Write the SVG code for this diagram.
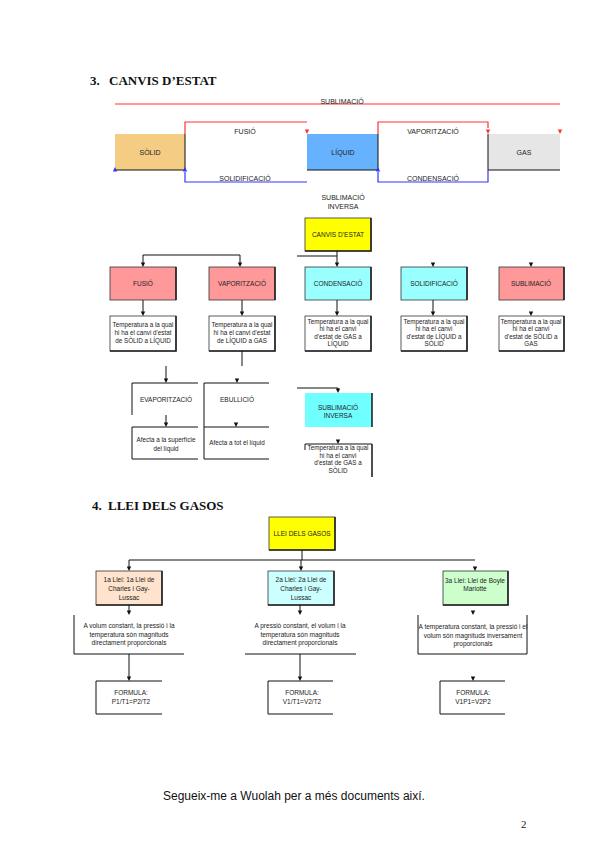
<svg xmlns="http://www.w3.org/2000/svg" xmlns:xlink="http://www.w3.org/1999/xlink" width="600" height="848" viewBox="0 0 600 848">
<defs>
<style>
.t{font-family:"Liberation Sans",Arial,sans-serif;font-size:7px;fill:#222;text-anchor:middle}
.s{font-size:6.5px}
.x{font-size:6.3px}
.h{font-family:"Liberation Serif","Times New Roman",serif;font-size:13px;font-weight:bold;fill:#111}
.ln{stroke:#111;stroke-width:1;fill:none}
.bd{stroke:#333;stroke-width:0.8}
.sh{stroke:#222;stroke-width:1.6;fill:none}
.red{stroke:#FF3333;stroke-width:1.2;fill:none}
.blue{stroke:#3333FF;stroke-width:1.2;fill:none}
</style>
<path id="ad" d="M-2.2,-4.5 H2.2 L0,0 Z"/>
</defs>
<rect width="600" height="848" fill="#fff"/>

<g id="titles">
<text class="h" x="90" y="84.5">3.</text>
<text class="h" x="109" y="84.5">CANVIS D’ESTAT</text>
<text class="h" x="92" y="509.5">4.</text>
<text class="h" x="108" y="509.5">LLEI DELS GASOS</text>
</g>

<!-- Top section: states -->
<g id="solid"><rect x="115" y="134" width="70" height="36" fill="#F4CC84"/><text class="t" x="150" y="154.5">SÒLID</text></g>
<g id="liquid"><rect x="307" y="134" width="71" height="36" fill="#66B2FF"/><text class="t" x="343" y="154.5">LÍQUID</text></g>
<g id="gas"><rect x="488" y="134" width="72" height="36" fill="#E6E6E6"/><text class="t" x="524" y="154.5">GAS</text></g>

<g id="top-connectors">
<path class="ln" d="M115,170 H185 V134 M307,170 H378 V134 M488,134 V170 H560"/>
<path class="red" d="M115,104 H560"/>
<path class="red" d="M185,134 V122 H307"/>
<path class="red" d="M378,134 V122 H488 V128"/>
<path class="blue" d="M185,172 V182 H307"/>
<path class="blue" d="M378,172 V182 H488 V170"/>
<use href="#ad" x="307" y="134" fill="#FF3333"/>
<use href="#ad" x="488" y="134" fill="#FF3333"/>
<use href="#ad" x="560" y="134" fill="#FF3333"/>
<use href="#ad" transform="translate(185,167) rotate(180)" fill="#3333FF"/>
<use href="#ad" transform="translate(378,167) rotate(180)" fill="#3333FF"/>
<use href="#ad" transform="translate(115,167) rotate(180)" fill="#3333FF"/>
<text class="t" x="342" y="103.5">SUBLIMACIÓ</text>
<text class="t" x="245" y="133.5">FUSIÓ</text>
<text class="t" x="245" y="180.5">SOLIDIFICACIÓ</text>
<text class="t" x="433" y="133.5">VAPORITZACIÓ</text>
<text class="t" x="433" y="180.5">CONDENSACIÓ</text>
<text class="t" x="343" y="199.5">SUBLIMACIÓ</text>
<text class="t" x="343" y="208.5">INVERSA</text>
</g>

<!-- Canvis d'estat tree -->
<g id="canvis"><rect x="305" y="218" width="66" height="33" fill="#FFFF00" class="bd"/><path class="sh" d="M371,218 V251 H305"/><text class="t s" x="338" y="237">CANVIS D’ESTAT</text></g>

<g id="fusio"><rect x="110" y="267" width="66" height="33" fill="#FF9999" class="bd"/><path class="sh" d="M176,267 V300"/><text class="t s" x="143" y="286">FUSIÓ</text></g>
<g id="vaporitzacio"><rect x="209" y="267" width="66" height="33" fill="#FF9999" class="bd"/><path class="sh" d="M275,267 V300"/><text class="t s" x="242" y="286">VAPORITZACIÓ</text></g>
<g id="condensacio"><rect x="305" y="267" width="66" height="33" fill="#99FFFF" class="bd"/><path class="sh" d="M371,267 V300"/><text class="t s" x="338" y="286">CONDENSACIÓ</text></g>
<g id="solidificacio"><rect x="401" y="267" width="66" height="33" fill="#99FFFF" class="bd"/><path class="sh" d="M467,267 V300"/><text class="t s" x="434" y="286">SOLIDIFICACIÓ</text></g>
<g id="sublimacio"><rect x="499" y="267" width="65" height="33" fill="#FF9999" class="bd"/><path class="sh" d="M564,267 V300"/><text class="t s" x="531" y="286">SUBLIMACIÓ</text></g>

<g id="t-fusio"><rect x="110" y="316" width="66" height="35" fill="#fff" class="bd"/><path class="sh" d="M176,316 V351 H110"/>
<text class="t x" x="143" y="327">Temperatura a la qual</text><text class="t x" x="143" y="335">hi ha el canvi d'estat</text><text class="t x" x="143" y="343">de SÒLID a LÍQUID</text></g>
<g id="t-vaporitzacio"><rect x="209" y="316" width="66" height="35" fill="#fff" class="bd"/><path class="sh" d="M275,316 V351 H209"/>
<text class="t x" x="242" y="327">Temperatura a la qual</text><text class="t x" x="242" y="335">hi ha el canvi d'estat</text><text class="t x" x="242" y="343">de LÍQUID a GAS</text></g>
<g id="t-condensacio"><rect x="305" y="316" width="66" height="35" fill="#fff" class="bd"/><path class="sh" d="M371,316 V351 H305"/>
<text class="t x" x="338" y="323.5">Temperatura a la qual</text><text class="t x" x="338" y="331">hi ha el canvi</text><text class="t x" x="338" y="338.5">d'estat de GAS a</text><text class="t x" x="338" y="346">LÍQUID</text></g>
<g id="t-solidificacio"><rect x="401" y="316" width="66" height="35" fill="#fff" class="bd"/><path class="sh" d="M467,316 V351 H401"/>
<text class="t x" x="434" y="323.5">Temperatura a la qual</text><text class="t x" x="434" y="331">hi ha el canvi</text><text class="t x" x="434" y="338.5">d'estat de LÍQUID a</text><text class="t x" x="434" y="346">SÒLID</text></g>
<g id="t-sublimacio"><rect x="499" y="316" width="65" height="35" fill="#fff" class="bd"/><path class="sh" d="M564,316 V351 H499"/>
<text class="t x" x="531" y="323.5">Temperatura a la qual</text><text class="t x" x="531" y="331">hi ha el canvi</text><text class="t x" x="531" y="338.5">d'estat de SÒLID a</text><text class="t x" x="531" y="346">GAS</text></g>

<g id="evaporitzacio"><path class="ln" d="M198,383 H132 V415"/><text class="t s" x="166" y="401.5">EVAPORITZACIÓ</text></g>
<g id="t-evaporitzacio"><path class="ln" d="M198,427 H132 V459 H198"/><text class="t x" x="166" y="442">Afecta a la superfície</text><text class="t x" x="166" y="450.5">del líquid</text></g>
<g id="ebullicio"><path class="ln" d="M269,383 H204 V459 H269"/><text class="t s" x="237" y="401.5">EBULLICIÓ</text></g>
<g id="t-ebullicio"><path class="ln" d="M269,427 H204"/><text class="t x" x="237" y="444.5">Afecta a tot el líquid</text></g>
<g id="sub-inversa"><rect x="305" y="393" width="67" height="34" fill="#70FFFF"/><path class="sh" d="M372,393 V427"/><text class="t s" x="338" y="410">SUBLIMACIÓ</text><text class="t s" x="338" y="417.5">INVERSA</text></g>
<g id="t-sub-inversa"><path class="ln" d="M305,450 V444 H372"/><path class="sh" d="M372,444 V477"/>
<text class="t x" x="338" y="450">Temperatura a la qual</text><text class="t x" x="338" y="457.5">hi ha el canvi</text><text class="t x" x="338" y="465">d'estat de GAS a</text><text class="t x" x="338" y="473">SÒLID</text></g>

<g id="tree-connectors" fill="#111">
<path class="ln" d="M337,251 V263 M297,256 H337 M143,263 V255 H240 V263"/>
<use href="#ad" x="337" y="267"/><use href="#ad" x="143" y="267"/><use href="#ad" x="240" y="267"/>
<use href="#ad" x="433" y="267"/><use href="#ad" x="531" y="267"/>
<path class="ln" d="M143,300 V312 M242,300 V312 M337,300 V312 M433,300 V312"/>
<use href="#ad" x="143" y="316"/><use href="#ad" x="242" y="316"/><use href="#ad" x="337" y="316"/><use href="#ad" x="433" y="316"/><use href="#ad" x="531" y="316"/>
<path class="ln" d="M242,351 V366 M166,366 V379"/>
<use href="#ad" x="166" y="383"/><use href="#ad" x="237" y="383"/>
<path class="ln" d="M297,388 H338 V389"/><use href="#ad" x="338" y="393"/>
<path class="ln" d="M166,415 V423"/><use href="#ad" x="166" y="427"/><use href="#ad" x="236" y="427"/>
<use href="#ad" x="338" y="444"/>
</g>

<!-- Llei dels gasos -->
<g id="llei"><rect x="269" y="517" width="66" height="33" fill="#FFFF00" class="bd"/><path class="sh" d="M335,517 V550 H269"/><text class="t s" x="302" y="535.5">LLEI DELS GASOS</text></g>
<g id="llei1"><rect x="96" y="571" width="66" height="34" fill="#FFE3CC" class="bd"/><path class="sh" d="M162,571 V605 H96"/>
<text class="t s" x="129" y="581.5">1a Llei: 1a Llei de</text><text class="t s" x="129" y="590.5">Charles i Gay-</text><text class="t s" x="129" y="599.5">Lussac</text></g>
<g id="llei2"><rect x="268" y="571" width="66" height="34" fill="#CCFFFF" class="bd"/><path class="sh" d="M334,571 V605 H268"/>
<text class="t s" x="301" y="581.5">2a Llei: 2a Llei de</text><text class="t s" x="301" y="590.5">Charles i Gay-</text><text class="t s" x="301" y="599.5">Lussac</text></g>
<g id="llei3"><rect x="443" y="571" width="65" height="34" fill="#CCFFCC" class="bd"/><path class="sh" d="M508,571 V605 H443"/>
<text class="t s" x="475" y="582.5">3a Llei: Llei de Boyle</text><text class="t s" x="475" y="591">Mariotte</text></g>

<g id="d1"><path class="ln" d="M74,615 V654 H184"/>
<text class="t s" x="129" y="628">A volum constant, la pressió i la</text><text class="t s" x="129" y="636.5">temperatura són magnituds</text><text class="t s" x="129" y="645">directament proporcionals</text></g>
<g id="d2"><path class="ln" d="M245,654 H356"/>
<text class="t s" x="300" y="628">A pressió constant, el volum i la</text><text class="t s" x="300" y="636.5">temperatura són magnituds</text><text class="t s" x="300" y="645">directament proporcionals</text></g>
<g id="d3"><path class="ln" d="M418,615 V654 H527 V615"/>
<text class="t s" x="473" y="629">A temperatura constant, la pressió i el</text><text class="t s" x="473" y="637.5">volum són magnituds inversament</text><text class="t s" x="473" y="646">proporcionals</text></g>

<g id="f1"><path class="ln" d="M162,681 H96 V714 H162"/><text class="t s" x="131" y="694.5">FORMULA:</text><text class="t s" x="131" y="703.5">P1/T1=P2/T2</text></g>
<g id="f2"><path class="ln" d="M333,681 H268 V714 H333"/><text class="t s" x="302" y="694.5">FORMULA:</text><text class="t s" x="302" y="703.5">V1/T1=V2/T2</text></g>
<g id="f3"><path class="ln" d="M505,681 H440 V714 H505"/><text class="t s" x="473" y="694.5">FORMULA:</text><text class="t s" x="473" y="703.5">V1P1=V2P2</text></g>

<g id="gas-connectors" fill="#111">
<path class="ln" d="M302,550 V560 M129,567 V560 H475 M301,560 V567"/>
<use href="#ad" x="129" y="571"/><use href="#ad" x="301" y="571"/><use href="#ad" x="475" y="571"/>
<path class="ln" d="M129,605 V611 M300,605 V611"/>
<use href="#ad" x="129" y="615"/><use href="#ad" x="300" y="615"/><use href="#ad" x="473" y="615"/>
<path class="ln" d="M129,654 V677 M300,654 V677"/>
<use href="#ad" x="129" y="681"/><use href="#ad" x="300" y="681"/><use href="#ad" x="473" y="681"/>
</g>

<g id="footer">
<text x="163" y="800" style="font-family:'Liberation Sans',Arial,sans-serif;font-size:12px;fill:#111">Segueix-me a Wuolah per a més documents així.</text>
<text x="521" y="828" style="font-family:'Liberation Serif','Times New Roman',serif;font-size:11px;fill:#222">2</text>
</g>
</svg>
